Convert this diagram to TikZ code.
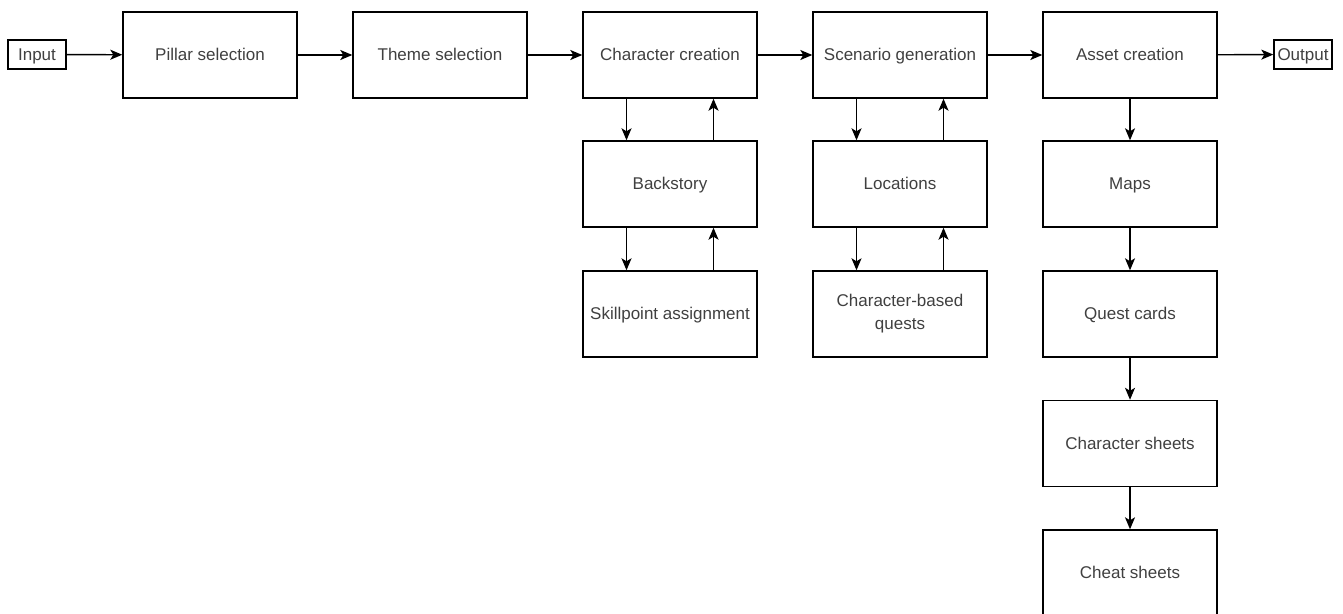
\documentclass[tikz,border=0pt]{standalone}
\usepackage{fontspec}
\setmainfont{Liberation Sans}
\usetikzlibrary{arrows.meta}
\begin{document}
\begin{tikzpicture}[x=1pt,y=-1pt,
  box/.style={draw, line width=1.4pt, minimum width=174pt, minimum height=86pt,
    inner sep=0pt, align=center, text=black!75,
    text height=13.5pt, text depth=2.5pt,
    font=\fontsize{17}{23}\selectfont},
  endbox/.style={draw, line width=1.4pt, minimum width=58pt, minimum height=29pt,
    inner sep=0pt, text=black!75, text height=13.5pt, text depth=2.5pt,
    font=\fontsize{17}{20}\selectfont},
  twoline/.style={text height=, text depth=},
  flow/.style={line width=1.4pt, -{Stealth[length=12pt,width=10pt,inset=3pt]}}]
\useasboundingbox (0,0) rectangle (1343,613);
\clip (0,0) rectangle (1343,613);
\fill[white] (0,0) rectangle (1343,613);

% main pipeline
\node[endbox] (in) at (37,54.5) {Input};
\node[box] (pillar) at (210,55) {Pillar selection};
\node[box] (theme) at (440,55) {Theme selection};
\node[box] (char) at (670,55) {Character creation};
\node[box] (scen) at (900,55) {Scenario generation};
\node[box] (asset) at (1130,55) {Asset creation};
\node[endbox] (out) at (1303,54.5) {Output};

% character branch
\node[box] (back) at (670,184) {Backstory};
\node[box] (skill) at (670,314) {Skillpoint assignment};

% scenario branch
\node[box] (loc) at (900,184) {Locations};
\node[box, twoline] (quests) at (900,314) {Character-based\\quests};

% asset branch
\node[box] (maps) at (1130,184) {Maps};
\node[box] (qcards) at (1130,314) {Quest cards};
\node[box] (csheets) at (1130,443.5) {Character sheets};
\node[box] (cheat) at (1130,573) {Cheat sheets};

% horizontal flow
\draw[flow] (in) -- (pillar);
\draw[flow] (pillar) -- (theme);
\draw[flow] (theme) -- (char);
\draw[flow] (char) -- (scen);
\draw[flow] (scen) -- (asset);
\draw[flow] (asset) -- (out);

% down/up pairs
\foreach \a/\b in {char/back, back/skill, scen/loc, loc/quests}{
  \draw[flow] ([xshift=-43.5pt]\a.south) -- ([xshift=-43.5pt]\b.north);
  \draw[flow] ([xshift=43.5pt]\b.north) -- ([xshift=43.5pt]\a.south);
}

% asset chain
\draw[flow] (asset) -- (maps);
\draw[flow] (maps) -- (qcards);
\draw[flow] (qcards) -- (csheets);
\draw[flow] (csheets) -- (cheat);
\end{tikzpicture}
\end{document}
